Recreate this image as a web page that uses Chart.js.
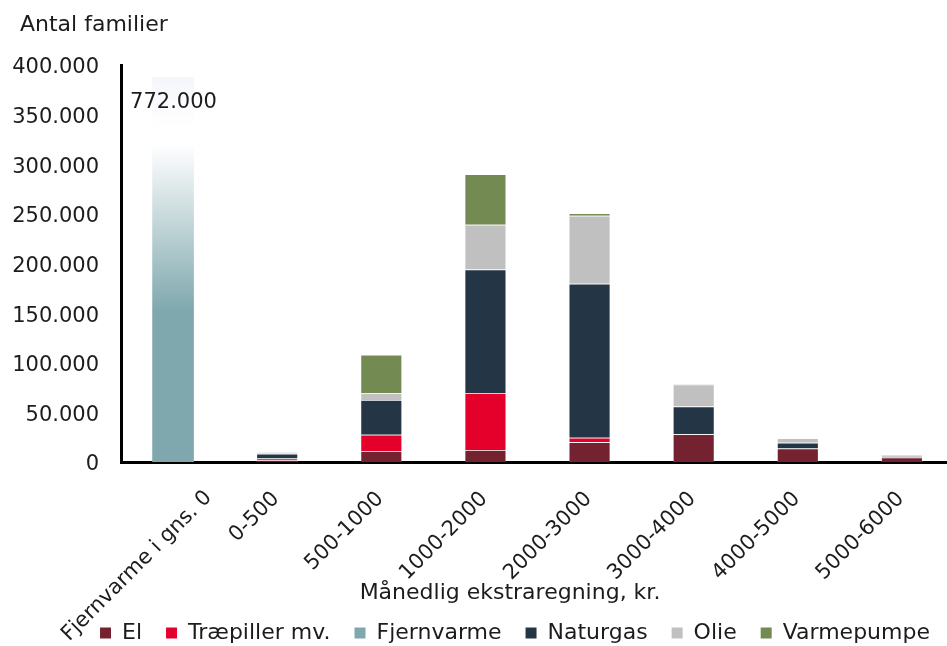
<!DOCTYPE html>
<html>
<head>
<meta charset="utf-8">
<script src="https://cdn.jsdelivr.net/npm/chart.js@4.4.0/dist/chart.umd.min.js"></script>
<style>
    html, body { margin: 0; padding: 0; background: #fff; overflow: hidden; }
    #wrap { width: 954px; height: 646px; position: relative; }
</style>
</head>
<body>
<div id="wrap"><canvas id="heatChart"></canvas></div>
<script>
const categories = ['Fjernvarme i gns. 0', '0-500', '500-1000', '1000-2000', '2000-3000', '3000-4000', '4000-5000', '5000-6000'];

const elValues         = [null, 1500, 11000, 12000, 20000, 28000, 13500, 4500];
const traepillerValues = [null, 2000, 16500, 57500, 4500, 0, 0, 0];
const fjernvarmeValues = [772000, null, null, null, null, null, null, null];
const naturgasValues   = [null, 4700, 35000, 124500, 155000, 28000, 6000, 1500];
const olieValues       = [null, 1300, 7000, 45000, 68500, 22000, 4500, 1000];
const varmepumpeValues = [null, 700, 38500, 51000, 2700, 500, 0, 0];

const yTicks = [0, 50000, 100000, 150000, 200000, 250000, 300000, 350000, 400000];

const fontFamily = "'DejaVu Sans', sans-serif";
const textColor = '#1c1c1c';

function formatDk(v) {
    return String(v).replace(/\B(?=(\d{3})+(?!\d))/g, '.');
}

// faded bar for fjernvarme, which runs far above the axis
function fjernvarmeFill(context) {
    const chart = context.chart;
    const area = chart.chartArea;
    if (!area) return '#7FA8AE';
    const y = chart.scales.y;
    const bottom = y.getPixelForValue(0);
    const top = y.getPixelForValue(400000);
    const g = chart.ctx.createLinearGradient(0, bottom, 0, top);
    g.addColorStop(0, '#7FA8AE');
    g.addColorStop(0.38, '#7FA8AE');
    g.addColorStop(0.80, '#FFFFFF');
    g.addColorStop(0.84, '#FFFFFF');
    g.addColorStop(0.969, '#F5F6FC');
    g.addColorStop(0.97, 'rgba(255,255,255,0)');
    g.addColorStop(1, 'rgba(255,255,255,0)');
    return g;
}

const textPlugin = {
    id: 'extraText',
    afterLayout(chart) {
        // let the slanted labels run below the axis box, nudge legend right
        chart.scales.x.bottom = chart.height;
        chart.legend.left += 38;
        chart.legend.right += 38;
    },
    afterDraw(chart) {
        const c = chart.ctx;
        const x = chart.scales.x;
        const y = chart.scales.y;
        c.save();
        c.fillStyle = textColor;
        c.textBaseline = 'middle';
        c.font = "22px " + fontFamily;
        c.textAlign = 'left';
        c.fillText('Antal familier', 20, 25);
        c.textAlign = 'center';
        c.fillText('Månedlig ekstraregning, kr.', 510, 593);
        c.font = "21px " + fontFamily;
        c.textAlign = 'left';
        c.fillText(formatDk(fjernvarmeValues[0]), x.getPixelForValue(0) - 43, y.getPixelForValue(362000));
        c.restore();
    }
};

function makeSet(label, data, color) {
    return {
        label: label,
        data: data,
        backgroundColor: color,
        borderColor: 'rgba(255,255,255,0.35)',
        borderWidth: 0.75,
        barPercentage: 0.4,
        categoryPercentage: 1.0
    };
}

const chartData = {
    labels: categories,
    datasets: [
        makeSet('El', elValues, '#74222F'),
        makeSet('Træpiller mv.', traepillerValues, '#E4002B'),
        Object.assign(makeSet('Fjernvarme', fjernvarmeValues, fjernvarmeFill), { borderWidth: 0 }),
        makeSet('Naturgas', naturgasValues, '#243646'),
        makeSet('Olie', olieValues, '#C0C0C0'),
        makeSet('Varmepumpe', varmepumpeValues, '#738B52')
    ]
};

const chartConfig = {
    type: 'bar',
    data: chartData,
    plugins: [textPlugin],
    options: {
        responsive: true,
        maintainAspectRatio: false,
        animation: false,
        layout: {
            padding: { left: 0, top: 65, right: 0, bottom: -8 }
        },
        plugins: {
            tooltip: { enabled: false },
            legend: {
                position: 'bottom',
                labels: {
                    color: textColor,
                    font: { family: fontFamily, size: 22 },
                    boxWidth: 11,
                    boxHeight: 11,
                    padding: 24,
                    generateLabels(chart) {
                        const items = Chart.defaults.plugins.legend.labels.generateLabels(chart);
                        items.forEach(it => {
                            if (it.text === 'Fjernvarme') it.fillStyle = '#7FA8AE';
                            it.lineWidth = 0;
                        });
                        return items;
                    }
                }
            }
        },
        scales: {
            x: {
                stacked: true,
                grid: { display: false, drawTicks: false },
                border: { display: true, color: '#000', width: 3 },
                ticks: {
                    color: textColor,
                    font: { family: fontFamily, size: 21, lineHeight: 1.2 },
                    minRotation: 45,
                    maxRotation: 45,
                    padding: -12,
                    autoSkip: false,
                    // blank lines and trailing spaces set where the slanted text sits
                    callback: (v, i) => i === 0 ? ['', '', categories[0]] : ['', categories[i] + '    ']
                },
                afterFit(scale) { scale.height = 136; }
            },
            y: {
                stacked: true,
                min: 0,
                max: 400000,
                grid: { display: false, drawTicks: false },
                border: { display: true, color: '#000', width: 3 },
                afterBuildTicks(scale) { scale.ticks = yTicks.map(v => ({ value: v })); },
                ticks: {
                    color: textColor,
                    font: { family: fontFamily, size: 21, lineHeight: '6px' },
                    padding: 22,
                    // empty first line drops the number a few pixels
                    callback: v => ['', formatDk(v)]
                },
                afterFit(scale) { scale.width = 121; }
            }
        }
    }
};

const heatChart = new Chart(document.getElementById('heatChart'), chartConfig);
</script>
</body>
</html>
